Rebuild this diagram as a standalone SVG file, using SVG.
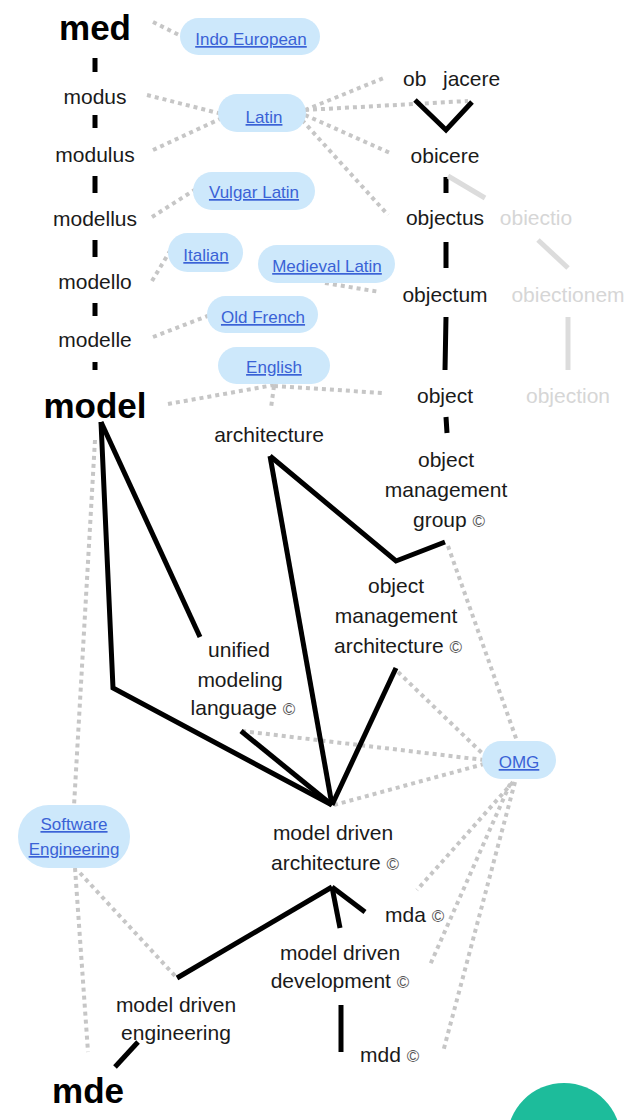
<svg xmlns="http://www.w3.org/2000/svg" width="636" height="1120" viewBox="0 0 636 1120">
<style>
.t{font-family:"Liberation Sans",Arial,sans-serif;font-size:21px;fill:#1a1a1a;text-anchor:middle}
.s{text-anchor:start}
.b{font-weight:bold;font-size:35px;fill:#000}
.g{fill:#d6d6d6}
.l{font-size:17px;fill:#3a62d6;text-decoration:underline}
.pill{fill:#cde8fb}
.c{font-size:17px;fill:#555}
.dot{stroke:#c6c6c6;stroke-width:4;stroke-dasharray:4 4;fill:none}
.blk{stroke:#000;stroke-width:5;fill:none}
.gr{stroke:#dcdcdc;stroke-width:5;fill:none}
</style>
<rect width="636" height="1120" fill="#fff"/>
<g id="connectors">
<path class="dot" d="M153,22 L183,37"/>
<path class="dot" d="M147,95 L222,114"/>
<path class="dot" d="M153,150 L222,118"/>
<path class="dot" d="M152,217 L196,189"/>
<path class="dot" d="M152,281 L170,251"/>
<path class="dot" d="M153,337 L210,315"/>
<path class="dot" d="M168,404 L274,385"/>
<path class="dot" d="M274,386 L383,393"/>
<path class="dot" d="M274,386 L271,408"/>
<path class="dot" d="M305,110 L384,78"/>
<path class="dot" d="M305,110 L468,101"/>
<path class="dot" d="M305,115 L390,153"/>
<path class="dot" d="M302,120 L388,215"/>
<path class="dot" d="M325,283 L380,292"/>
<path class="dot" d="M95,440 L74,806"/>
<path class="dot" d="M75,868 L88,1052"/>
<path class="dot" d="M80,873 L176,977"/>
<path class="dot" d="M242,731 L484,760"/>
<path class="dot" d="M334,805 L484,764"/>
<path class="dot" d="M398,672 L484,755"/>
<path class="dot" d="M448,546 L517,741"/>
<path class="dot" d="M513,782 L417,890"/>
<path class="dot" d="M510,784 L430,965"/>
<path class="dot" d="M515,782 L443,1052"/>
<path class="blk" stroke-width="6" d="M95,58 V72 M95,115 V128 M95,176 V193 M95,240 V257 M95,303 V316 M95,362 V370"/>
<path class="blk" d="M415,100 L446,130 L472,102"/>
<path class="blk" d="M446,177 V193 M446,242 V268 M446,317 L445,370 M446,417 L447,433"/>
<path class="blk" d="M270,456 L396,561 L445,542"/>
<path class="blk" d="M270,456 L332,805"/>
<path class="blk" d="M101,422 L200,637"/>
<path class="blk" d="M101,422 L113,688 L332,805"/>
<path class="blk" d="M241,731 L332,805"/>
<path class="blk" d="M396,668 L332,805"/>
<path class="blk" d="M177,978 L332,887"/>
<path class="blk" d="M332,887 L340,928"/>
<path class="blk" d="M332,887 L365,912"/>
<path class="blk" d="M341,1005 V1052"/>
<path class="blk" d="M115,1067 L138,1042"/>
<path class="gr" d="M448,176 L485,198"/>
<path class="gr" d="M538,240 L568,268"/>
<path class="gr" d="M568,317 V370"/>
</g>
<g id="med"><text class="t b" x="95" y="40">med</text></g>
<g id="modus"><text class="t" x="95" y="104">modus</text></g>
<g id="modulus"><text class="t" x="95" y="162">modulus</text></g>
<g id="modellus"><text class="t" x="95" y="226">modellus</text></g>
<g id="modello"><text class="t" x="95" y="289">modello</text></g>
<g id="modelle"><text class="t" x="95" y="347">modelle</text></g>
<g id="model"><text class="t b" x="95" y="418">model</text></g>
<g id="indo-european"><rect class="pill" x="180" y="18" width="140" height="37" rx="18.5"/><text class="t l" x="251" y="45">Indo European</text></g>
<g id="latin"><rect class="pill" x="218" y="94" width="88" height="38" rx="19"/><text class="t l" x="264" y="123">Latin</text></g>
<g id="vulgar-latin"><rect class="pill" x="193" y="172" width="122" height="38" rx="19"/><text class="t l" x="254" y="198">Vulgar Latin</text></g>
<g id="italian"><rect class="pill" x="168" y="233" width="75" height="39" rx="19.5"/><text class="t l" x="206" y="261">Italian</text></g>
<g id="medieval-latin"><rect class="pill" x="258" y="245" width="137" height="38" rx="19"/><text class="t l" x="327" y="272">Medieval Latin</text></g>
<g id="old-french"><rect class="pill" x="207" y="296" width="111" height="37" rx="18.5"/><text class="t l" x="263" y="323">Old French</text></g>
<g id="english"><rect class="pill" x="218" y="347" width="112" height="37" rx="18.5"/><text class="t l" x="274" y="373">English</text></g>
<g id="omg"><rect class="pill" x="482" y="741" width="74" height="38" rx="19"/><text class="t l" x="519" y="768">OMG</text></g>
<g id="software-engineering"><rect class="pill" x="18" y="805" width="112" height="63" rx="31"/><text class="t l" x="74" y="830">Software</text><text class="t l" x="74" y="855">Engineering</text></g>
<g id="ob-jacere"><text class="t s" y="86"><tspan x="403">ob</tspan><tspan x="443">jacere</tspan></text></g>
<g id="obicere"><text class="t" x="445" y="163">obicere</text></g>
<g id="objectus"><text class="t" x="445" y="225">objectus</text></g>
<g id="obiectio"><text class="t g" x="536" y="225">obiectio</text></g>
<g id="objectum"><text class="t" x="445" y="302">objectum</text></g>
<g id="obiectionem"><text class="t g" x="568" y="302">obiectionem</text></g>
<g id="object"><text class="t" x="445" y="403">object</text></g>
<g id="objection"><text class="t g" x="568" y="403">objection</text></g>
<g id="object-management-group"><text class="t" x="446" y="467">object</text><text class="t" x="446" y="497">management</text><text class="t" x="449" y="527">group <tspan class="c">©</tspan></text></g>
<g id="architecture"><text class="t" x="269" y="442">architecture</text></g>
<g id="object-management-architecture"><text class="t" x="396" y="593">object</text><text class="t" x="396" y="623">management</text><text class="t" x="398" y="653">architecture <tspan class="c">©</tspan></text></g>
<g id="unified-modeling-language"><text class="t" x="239" y="657">unified</text><text class="t" x="240" y="687">modeling</text><text class="t" x="243" y="715">language <tspan class="c">©</tspan></text></g>
<g id="model-driven-architecture"><text class="t" x="333" y="840">model driven</text><text class="t" x="335" y="870">architecture <tspan class="c">©</tspan></text></g>
<g id="mda"><text class="t s" x="385" y="922">mda <tspan class="c">©</tspan></text></g>
<g id="model-driven-development"><text class="t" x="340" y="960">model driven</text><text class="t" x="340" y="988">development <tspan class="c">©</tspan></text></g>
<g id="mdd"><text class="t s" x="360" y="1062">mdd <tspan class="c">©</tspan></text></g>
<g id="model-driven-engineering"><text class="t" x="176" y="1012">model driven</text><text class="t" x="176" y="1040">engineering</text></g>
<g id="mde"><text class="t b" x="88" y="1103" font-size="38">mde</text></g>
<circle cx="564" cy="1140" r="57" fill="#1dbc9b"/>
</svg>
